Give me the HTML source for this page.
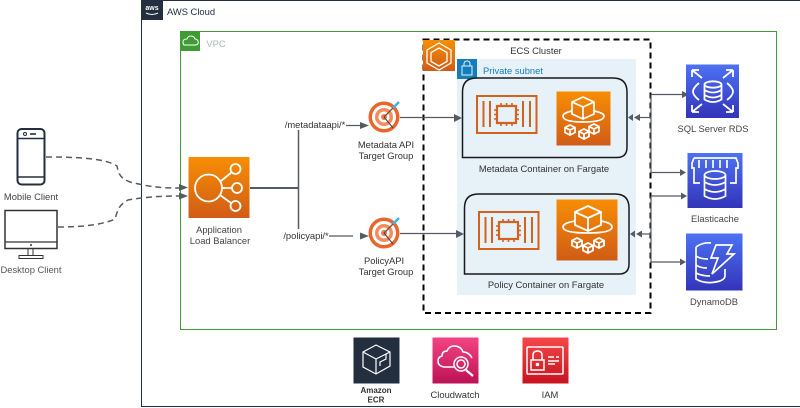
<!DOCTYPE html>
<html><head><meta charset="utf-8"><style>
html,body{margin:0;padding:0;background:#fff}
svg{display:block}
text{font-family:"Liberation Sans",sans-serif;font-size:9.4px;fill:#333;text-anchor:middle}
</style></head><body>
<svg width="800" height="408" viewBox="0 0 800 408" xmlns="http://www.w3.org/2000/svg">
<defs>
<linearGradient id="o" x1="0" y1="0" x2="0" y2="1"><stop offset="0" stop-color="#f78e04"/><stop offset="1" stop-color="#d05c17"/></linearGradient>
<linearGradient id="b" x1="0" y1="0" x2="0" y2="1"><stop offset="0" stop-color="#4d72f3"/><stop offset="1" stop-color="#3334b9"/></linearGradient>
<linearGradient id="p" x1="0" y1="0" x2="0" y2="1"><stop offset="0" stop-color="#f34482"/><stop offset="1" stop-color="#bc1356"/></linearGradient>
<linearGradient id="r" x1="0" y1="0" x2="0" y2="1"><stop offset="0" stop-color="#f54749"/><stop offset="1" stop-color="#c7131f"/></linearGradient>
</defs>

<rect x="141.5" y="0.5" width="700" height="406" fill="#fff" stroke="#232f3e"/>
<rect x="141" y="0" width="22" height="20" fill="#232f3e"/>
<text x="152" y="10" style="font-size:7px;font-weight:bold;fill:#fff">aws</text>
<path d="M146 13q6 3 12 0" fill="none" stroke="#f5f5f5"/>
<text x="191" y="15" style="fill:#232f3e">AWS Cloud</text>

<rect x="180.500" y="31.500" width="596" height="298" fill="#fff" stroke="#3f9c35"/>
<rect x="180" y="31" width="20" height="20" fill="#3f9c35"/>
<path d="M184 45h12q3-1 2-4q-1-2-3-2q-1-3-4-3q-3 0-4 3q-4 0-4 3q0 2 1 3z" fill="none" stroke="#fff"/>
<text x="216" y="47" style="fill:#aab7b8">VPC</text>

<rect x="457" y="59" width="179" height="236" fill="#e6f1f8"/>
<rect x="423.500" y="39.500" width="227" height="273.500" fill="none" stroke="#000" stroke-width="2" stroke-dasharray="6 4"/>
<rect x="423" y="40" width="32" height="31" fill="url(#o)"/>
<g fill="none" stroke="#fff" stroke-width="1.300">
<path d="M439 43l12 7v13l-12 7l-12-7v-13z"/>
<path d="M439 48l8 4.500v9l-8 4.500l-8-4.500v-9z"/>
</g>
<text x="536" y="54" style="fill:#333">ECS Cluster</text>
<rect x="457" y="59" width="20" height="20" fill="#147eba"/>
<rect x="462" y="66" width="10" height="9" fill="none" stroke="#e6f1f8"/>
<path d="M464 66v-2q0-3 3-3q3 0 3 3v2" fill="none" stroke="#e6f1f8"/>
<text x="513" y="74" style="fill:#147eba">Private subnet</text>

<!-- containers -->
<path d="M462.500 157.500V92q0-14 14-14H613q14 0 14 14v55q0 10.500-10 10.500z" fill="#e6f1f8" stroke="#1a1a1a" stroke-width="1.500"/>
<path d="M464.500 274V208q0-14 14-14H615q14 0 14 14v56q0 10-10 10z" fill="#e6f1f8" stroke="#1a1a1a" stroke-width="1.500"/>
<text x="544" y="172" style="fill:#333">Metadata Container on Fargate</text>
<text x="546" y="288" style="fill:#333">Policy Container on Fargate</text>

<!-- EC2 container icons -->
<g id="ec" fill="none" stroke="#d4611c" stroke-width="2">
<rect x="477" y="96" width="59.500" height="37"/>
<path d="M483.500 101v26M490 101v26M523 101v26M530 101v26" />
<rect x="497" y="106" width="19" height="17" stroke-width="2.200"/>
<path d="M501 103v3M506.500 103v3M512 103v3M501 123v3M506.500 123v3M512 123v3M494 110h3M494 114.500h3M494 119h3M516 110h3M516 114.500h3M516 119h3" stroke-width="1.600"/>
</g>
<use href="#ec" x="2" y="116"/>

<!-- Fargate -->
<rect x="556.500" y="91.500" width="54" height="54" fill="url(#o)"/>
<g fill="none" stroke="#fff" stroke-width="1.700">
<path d="M583 97l11 5v12l-11 5l-11-5v-12zM572 102l11 5l11-5M583 107v12"/>
<path d="M572 111q-9 2-9 5q0 6 20 6q21 0 21-6q0-3-10-5"/>
<path d="M570 125l5 2.500v5l-5 2.500l-5-2.500v-5zM565 127.500l5 2.500l5-2.500M570 130v5"/>
<path d="M594 124l5 2.500v5l-5 2.500l-5-2.500v-5zM589 126.500l5 2.500l5-2.500M594 129v5"/>
<path d="M584 129l5 2.500v5l-5 2.500l-5-2.500v-5zM579 131.500l5 2.500l5-2.500M584 134v5"/>
</g>
<rect x="556.500" y="199.500" width="61" height="61" fill="url(#o)"/>
<g fill="none" stroke="#fff" stroke-width="1.800">
<path d="M588 206l13 6v13l-13 6l-13-6v-13zM575 212l13 6l13-6M588 218v13"/>
<path d="M575 221q-12 2-12 6q0 6 25 6q24 0 24-6q0-4-11-6"/>
<path d="M577 238l5 2.500v5l-5 2.500l-5-2.500v-5zM572 240.500l5 2.500l5-2.500M577 243v5"/>
<path d="M599 238l5 2.500v5l-5 2.500l-5-2.500v-5zM594 240.500l5 2.500l5-2.500M599 243v5"/>
<path d="M588 243l5 2.500v5l-5 2.500l-5-2.500v-5zM583 245.500l5 2.500l5-2.500M588 248v5"/>
</g>

<!-- clients -->
<rect x="17.500" y="129" width="27" height="55.500" rx="4" fill="#fff" stroke="#232f3e" stroke-width="2"/>
<path d="M17.500 138.500h27M17.500 177h27" stroke="#232f3e" stroke-width="1.600"/>
<circle cx="25" cy="134" r="1.500" fill="none" stroke="#232f3e"/><path d="M30 134h6" stroke="#232f3e" stroke-width="1.600"/>
<text x="31" y="200" style="fill:#444">Mobile Client</text>
<rect x="5" y="210.500" width="52" height="38" fill="#fff" stroke="#333" stroke-width="1.500"/>
<path d="M5 242h52" stroke="#333" stroke-width="1.300"/>
<path d="M28 249v6M33 249v6" stroke="#333"/>
<rect x="19" y="255.500" width="24" height="3" fill="#fff" stroke="#333"/>
<circle cx="31" cy="245" r="1" fill="#333"/>
<text x="31" y="273" style="fill:#555">Desktop Client</text>

<!-- dashed client links -->
<g fill="none" stroke="#545b64" stroke-width="1.500" stroke-dasharray="6 4">
<path d="M46 157C75 157 105 158 117 166C119 176 121 178 130 182C150 187 160 188 180 188"/>
<path d="M58 227C75 227 100 226 115 219C118 209 119 205 128 200C145 197 160 196 180 196"/>
</g>
<path d="M188 187.500l-9-3.500v7zM188 196l-9-3.500v7z" fill="#545b64"/>

<!-- ALB -->
<rect x="188.500" y="157" width="61" height="61" fill="url(#o)"/>
<g fill="none" stroke="#fff" stroke-width="1.800">
<circle cx="208.500" cy="188" r="13.500"/>
<circle cx="235.500" cy="169" r="5"/><circle cx="237" cy="188" r="5"/><circle cx="235.500" cy="206" r="5"/>
<path d="M221 181l11-9M222 188h10M220 195l11 8"/>
</g>
<text x="219" y="233" style="fill:#444">Application</text>
<text x="220" y="244" style="fill:#444">Load Balancer</text>

<!-- ALB routing -->
<path d="M250 188H298.500" stroke="#545b64" stroke-width="2" fill="none"/>
<path d="M298.500 130V229" stroke="#545b64" stroke-width="1.500" fill="none"/>
<text x="315" y="128">/metadataapi/*</text>
<text x="306" y="239">/policyapi/*</text>
<path d="M346 125.500h14M329 236h24" stroke="#545b64" stroke-width="1.300"/>
<path d="M369 125.500l-9-3.500v7zM369 236l-9-3.500v7z" fill="#545b64"/>

<!-- target groups -->
<g id="tg">
<circle cx="384" cy="117" r="15.500" fill="#e8662c"/>
<circle cx="384" cy="117" r="12" fill="#fff"/>
<circle cx="384" cy="117" r="9" fill="#f58a5c"/>
<circle cx="384" cy="117" r="5.500" fill="#fff"/>
<circle cx="384" cy="117" r="3" fill="#ef7a4a"/>
<path d="M384 117l14-14" stroke="#7a5230" stroke-width="1.300"/>
<path d="M393 108l6-6" stroke="#3cb4e6" stroke-width="2.500"/>
<path d="M384 117l9 11" stroke="#444" stroke-width="1"/>
</g>
<use href="#tg" y="116"/>
<text x="386" y="148">Metadata API</text>
<text x="386" y="159">Target Group</text>
<text x="384" y="264">PolicyAPI</text>
<text x="386" y="275">Target Group</text>

<path d="M400 117.500H455M400 233.500H457" stroke="#545b64" stroke-width="1.300" fill="none"/>
<path d="M462 118l-8-4v8zM464 234l-8-4v8z" fill="#545b64"/>

<!-- right links -->
<g fill="none" stroke="#545b64" stroke-width="1.200">
<path d="M651 94.500V172.500H684"/>
<path d="M651 94.500H684"/>
<path d="M651 117.500H640"/>
<path d="M651 196V262H684"/>
<path d="M651 196H686"/>
<path d="M651 234H640"/>
</g>
<path d="M689 94.500l-7-3.500v7zM686 172.500l-6-3.500v7zM687 196l-6-3.500v7zM686 262l-6-3.500v7z" fill="#545b64"/>
<path d="M628 117.500l5 3.500v-7zM634 117.500l6 3.500v-7zM630 234l5 3.500v-7zM636 234l6 3.500v-7z" fill="#545b64"/>

<!-- RDS -->
<rect x="686" y="64.500" width="53" height="53.500" fill="url(#b)"/>
<g fill="none" stroke="#fff" stroke-width="1.800">
<ellipse cx="713" cy="84.500" rx="8.500" ry="3.200"/>
<path d="M704.500 84.500v15q8.500 5 17 0v-15M704.500 90q8.500 5 17 0M704.500 95q8.500 5 17 0"/>
<path d="M699 83q-6 5-6 8.500q0 4 6 8.500M727 83q6 5 6 8.500q0 4-6 8.500"/>
<path d="M692 70l10 8M692 70h7M692 70v7M733 70l-10 8M733 70h-7M733 70v7M692 112l10-8M692 112h7M692 112v-7M733 112l-10-8M733 112h-7M733 112v-7"/>
</g>
<text x="713" y="132" style="fill:#444">SQL Server RDS</text>

<!-- Elasticache -->
<rect x="687.500" y="153" width="55" height="55" fill="url(#b)"/>
<g fill="none" stroke="#fff" stroke-width="1.700">
<path d="M694 158h42l2 5v5h-2v15h-6M694 158l-2 5v5h2v15h6M699 160v8M706 160v8M713 160v8M720 160v8M727 160v8"/>
<ellipse cx="715" cy="175" rx="10.500" ry="4"/>
<path d="M704.500 175v21q10.500 6 21 0V175M704.500 182q10.500 6 21 0M704.500 189q10.500 6 21 0"/>
</g>
<text x="715" y="222" style="fill:#444">Elasticache</text>

<!-- DynamoDB -->
<rect x="686" y="233.500" width="56.500" height="57" fill="url(#b)"/>
<g fill="none" stroke="#fff" stroke-width="1.700">
<path d="M696 247q7-5 15-4M696 247v32q10 6 24 2q5-2 5-5v-7M696 256q4 3 12 3M696 265q4 3 11 3M696 273q6 3 14 3"/>
<path d="M716 245h16l-5 9h7l-22 20l6-16h-7z"/>
</g>
<text x="714" y="305" style="fill:#444">DynamoDB</text>

<!-- bottom services -->
<rect x="353.500" y="337.500" width="46" height="46" fill="#232f3e"/>
<g fill="none" stroke="#fff" stroke-width="1.200">
<path d="M376 345l14 7v14l-14 8l-13-7v-15zM363 352l13 7l14-7M376 359v15"/>
<path d="M380 366v-4l6-3v-5"/>
</g>
<text x="376" y="393" style="font-size:8px;font-weight:bold;fill:#333">Amazon</text>
<text x="376" y="402.500" style="font-size:8px;font-weight:bold;fill:#333">ECR</text>

<rect x="432.500" y="337.500" width="46" height="46" fill="url(#p)"/>
<g fill="none" stroke="#fff" stroke-width="1.500">
<path d="M454 367h-10q-6-1-6-6q0-4 4-5q0-5 5-5q2-5 7-5q7 0 9 6q6 0 9 6"/>
<circle cx="461" cy="364" r="7"/><circle cx="461" cy="364" r="4"/>
<path d="M466 370l7 6" stroke-width="2.200"/>
</g>
<text x="455" y="398">Cloudwatch</text>

<rect x="522.500" y="337.500" width="46" height="46" fill="url(#r)"/>
<g fill="none" stroke="#fff" stroke-width="1.500">
<rect x="527" y="347" width="36" height="27" rx="1"/>
<rect x="531" y="360" width="13" height="10"/>
<path d="M533 360v-5q0-4 4.500-4q4.500 0 4.500 4v5"/>
<path d="M548 357h6M556 357h3M548 361h11M548 364h7"/>
</g>
<circle cx="537.500" cy="364.500" r="1.800" fill="#fff"/>
<text x="550" y="398">IAM</text>
</svg>
</body></html>
